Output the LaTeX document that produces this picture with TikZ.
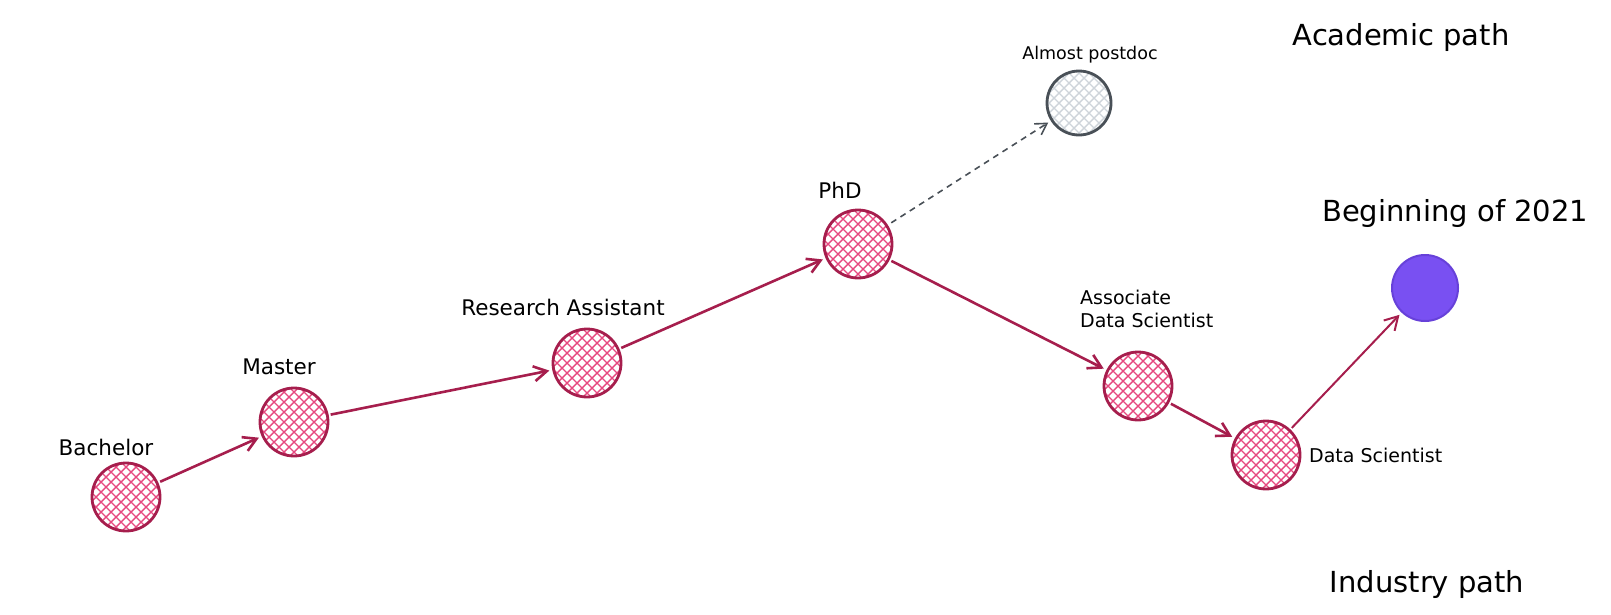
\documentclass[tikz,border=0pt]{standalone}
\usepackage{fontspec}
\setmainfont{DejaVu Sans}
\usetikzlibrary{arrows.meta}
\definecolor{crim}{HTML}{A61E4D}
\definecolor{hpink}{HTML}{E64980}
\definecolor{gstroke}{HTML}{495057}
\definecolor{ghatch}{HTML}{CED4DA}
\definecolor{pfill}{HTML}{7950F2}
\definecolor{pstroke}{HTML}{6741D9}
\tikzset{
  hatchfill/.style={path picture={
    \begin{scope}[shift={(path picture bounding box.center)}]
      \foreach \k in {-5,...,5}{
        \draw[#1,line width=1.4pt] (\k*10-45,-45) -- (\k*10+45,45);
        \draw[#1,line width=1.4pt] (\k*10-45,45) -- (\k*10+45,-45);
      }
    \end{scope}}},
  stage/.style={circle,draw=crim,line width=2.8pt,minimum size=68pt,inner sep=0pt,hatchfill=hpink},
  ghost/.style={circle,draw=gstroke,line width=2.8pt,minimum size=64pt,inner sep=0pt,hatchfill=ghatch},
  goal/.style={circle,draw=pstroke,fill=pfill,line width=2pt,minimum size=66pt,inner sep=0pt},
  midlabel/.style={font=\fontsize{21.5}{26}\selectfont,inner sep=0pt},
  smalllabel/.style={font=\fontsize{19}{23}\selectfont,inner sep=0pt},
  biglabel/.style={font=\fontsize{29}{34}\selectfont,inner sep=0pt},
  flow/.style={draw=crim,line width=2.6pt,-{Straight Barb[length=13pt,width=15pt]},shorten >=3pt,shorten <=2pt},
  flowthin/.style={flow,line width=2pt},
  maybe/.style={draw=gstroke,line width=1.6pt,dash pattern=on 6pt off 5pt,-{Straight Barb[length=11pt,width=13pt]},shorten >=3pt,shorten <=4pt}
}
\begin{document}
\begin{tikzpicture}[x=1pt,y=-1pt]
\useasboundingbox (0,0) rectangle (1611,614);
% circles
\node[stage] (bach) at (126,497) {};
\node[stage] (mast) at (294,422) {};
\node[stage] (ra) at (587,363) {};
\node[stage] (phd) at (858,244) {};
\node[ghost] (post) at (1079,103) {};
\node[stage] (ads) at (1138,386) {};
\node[stage] (ds) at (1266,455) {};
\node[goal] (now) at (1425,288) {};
% labels
\node[midlabel] (lbach) at (106,447) {Bachelor};
\node[midlabel] (lmast) at (279,367) {Master};
\node[midlabel] (lra) at (563,307) {Research Assistant};
\node[midlabel] (lphd) at (840,190) {PhD};
\node[smalllabel,font=\fontsize{17.5}{22}\selectfont] (lpost) at (1090,55) {Almost postdoc};
\node[smalllabel,align=left,anchor=west] (lads) at (1080,309) {Associate\\Data Scientist};
\node[smalllabel,anchor=west] (lds) at (1309,455) {Data Scientist};
\node[biglabel,anchor=west] (lnow) at (1322,213) {Beginning of 2021};
\node[biglabel] (lacad) at (1401,37) {Academic path};
\node[biglabel] (lind) at (1427,584) {Industry path};
% connectors
\draw[flow] (bach) -- (mast);
\draw[flow] (mast) -- (ra);
\draw[flow] (ra) -- (phd);
\draw[maybe] (phd) -- (post);
\draw[flow] (phd) -- (ads);
\draw[flow] (ads) -- (ds);
\draw[flowthin] (ds) -- (now);
\end{tikzpicture}
\end{document}
